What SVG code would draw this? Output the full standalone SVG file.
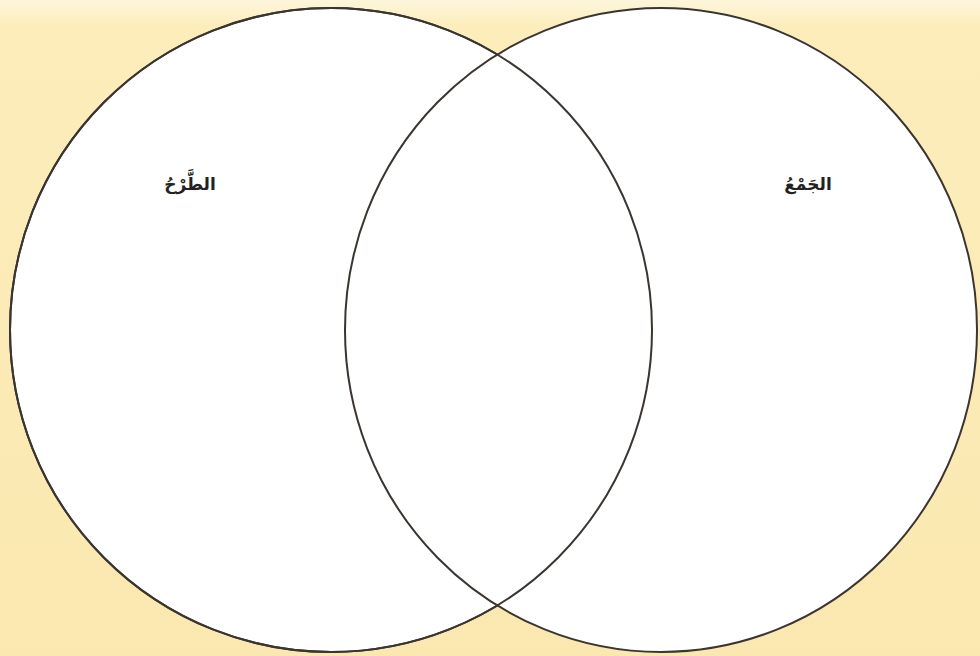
<svg xmlns="http://www.w3.org/2000/svg" width="980" height="656" viewBox="0 0 980 656">
<style>
.set{fill:#ffffff;stroke:#3a3530;stroke-width:2}
.ring{fill:none;stroke:#3a3530;stroke-width:2}
.lbl{font-family:"DejaVu Sans","Noto Sans",sans-serif;font-weight:bold;font-size:17px;fill:#222;text-anchor:middle}
</style>
<defs>
<linearGradient id="bg" x1="0" y1="0" x2="0" y2="1">
<stop offset="0" stop-color="#fdf6dc"/>
<stop offset="0.04" stop-color="#fcedbb"/>
<stop offset="1" stop-color="#fbe8b0"/>
</linearGradient>
</defs>
<rect x="0" y="0" width="980" height="656" fill="url(#bg)"/>
<g id="subtraction">
<ellipse class="set" cx="331" cy="330" rx="321" ry="322"/>
</g>
<g id="addition">
<ellipse class="set" cx="661" cy="330" rx="316" ry="322"/>
</g>
<g id="outlines">
<ellipse class="ring" cx="331" cy="330" rx="321" ry="322"/>
</g>
<text class="lbl" x="190" y="190" direction="rtl">الطَّرْحُ</text>
<text class="lbl" x="808" y="190" direction="rtl">الجَمْعُ</text>
</svg>
